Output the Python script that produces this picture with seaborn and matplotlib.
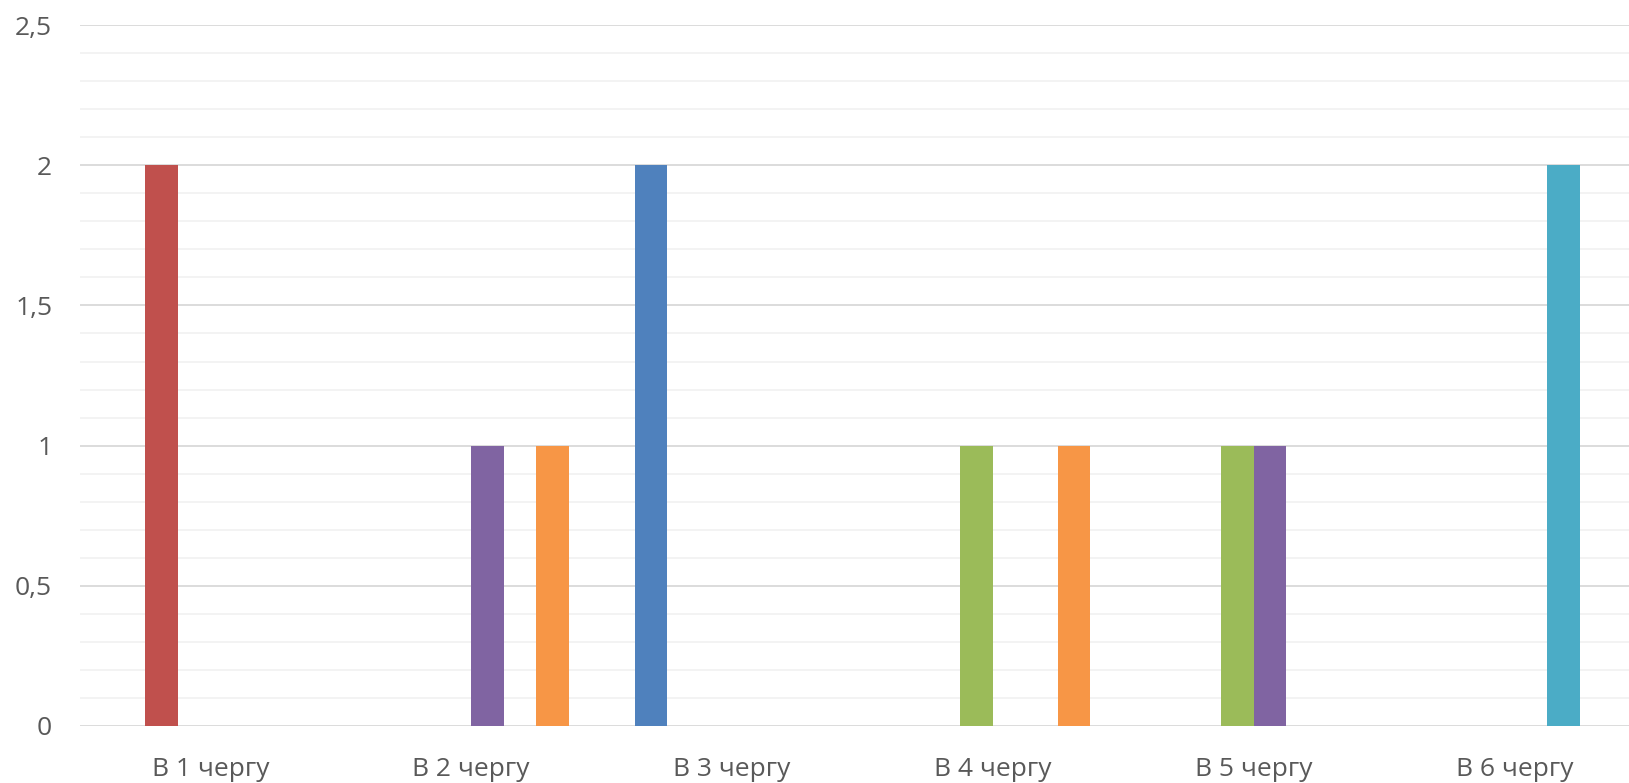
import pandas as pd
import seaborn as sns
import matplotlib.pyplot as plt
from matplotlib.ticker import MultipleLocator, FuncFormatter

# Categories and series values
categories = ['В 1 чергу', 'В 2 чергу', 'В 3 чергу', 'В 4 чергу', 'В 5 чергу', 'В 6 чергу']
series_names = ['Ряд 1', 'Ряд 2', 'Ряд 3', 'Ряд 4', 'Ряд 5', 'Ряд 6']
blue = [0, 0, 2, 0, 0, 0]
red = [2, 0, 0, 0, 0, 0]
green = [0, 0, 0, 1, 1, 0]
purple = [0, 1, 0, 0, 1, 0]
aqua = [0, 0, 0, 0, 0, 2]
orange = [0, 1, 0, 1, 0, 0]
colors = ['#4F81BD', '#C0504D', '#9BBB59', '#8064A2', '#4BACC6', '#F79646']

# Long table for seaborn
rows = []
for name, vals in zip(series_names, [blue, red, green, purple, aqua, orange]):
    for cat, v in zip(categories, vals):
        rows.append({'cat': cat, 'series': name, 'value': v})
df = pd.DataFrame(rows)

sns.set_style('white')
plt.rcParams['font.family'] = ['Open Sans', 'DejaVu Sans']

fig = plt.figure(figsize=(16.29, 7.83), dpi=100)
# plot area runs a little past the right edge, as in the original
ax = fig.add_axes([0.0491, 0.0728, 0.9607, 0.8952])

sns.barplot(data=df, x='cat', y='value', hue='series', palette=colors,
            saturation=1, width=0.748, gap=0, linewidth=0, legend=False, ax=ax)

ax.set_xlim(-0.5, 5.5)
ax.set_ylim(0, 2.5)
ax.yaxis.set_major_locator(MultipleLocator(0.5))
ax.yaxis.set_minor_locator(MultipleLocator(0.1))
ax.yaxis.set_major_formatter(FuncFormatter(lambda v, p: f'{v:g}'.replace('.', ',')))

ax.grid(axis='y', which='major', color='#d9d9d9', linewidth=1.3)
ax.grid(axis='y', which='minor', color='#f2f2f2', linewidth=1.3)
ax.set_axisbelow(True)
for s in ax.spines.values():
    s.set_visible(False)

ax.tick_params(axis='y', which='both', length=0, pad=20, labelsize=19, labelcolor='#595959')
ax.tick_params(axis='x', length=0, pad=22, labelsize=19, labelcolor='#595959')
ax.set_xlabel('')
ax.set_ylabel('')

fig.savefig('out.png', dpi=100)
